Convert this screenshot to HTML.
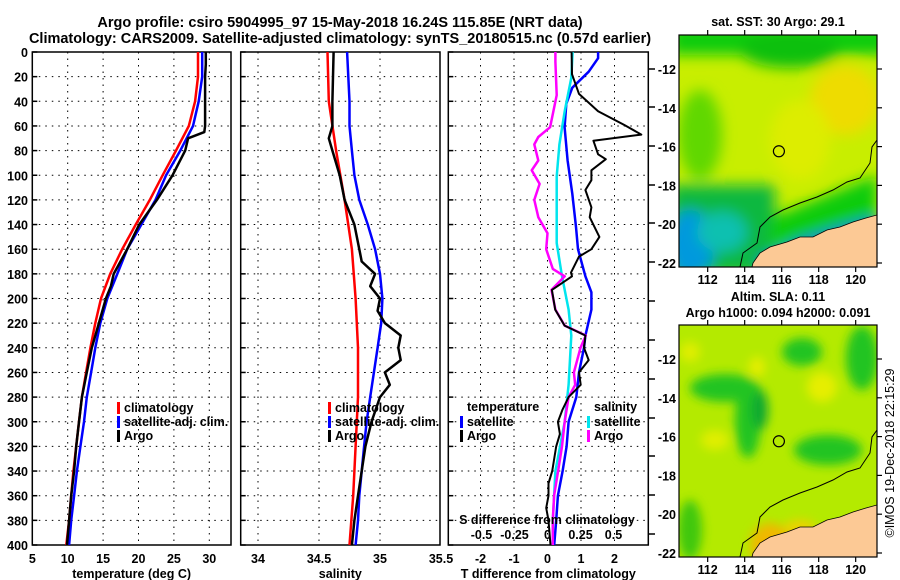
<!DOCTYPE html>
<html><head><meta charset="utf-8"><style>
html,body{margin:0;padding:0;background:#fff;}
svg{display:block;font-family:"Liberation Sans",sans-serif;font-weight:bold;}
</style></head><body>
<svg id="fig" width="900" height="580" viewBox="0 0 900 580" xmlns="http://www.w3.org/2000/svg">
<defs>
<filter id="blur6" x="-50%" y="-50%" width="200%" height="200%"><feGaussianBlur stdDeviation="7"/></filter>
<filter id="blur4" x="-50%" y="-50%" width="200%" height="200%"><feGaussianBlur stdDeviation="5"/></filter>
<clipPath id="clipTop"><rect x="679" y="35" width="198" height="232"/></clipPath>
<clipPath id="clipBot"><rect x="679" y="325" width="198" height="232"/></clipPath>
</defs>
<text x="340" y="27" text-anchor="middle" font-size="14.5">Argo profile: csiro 5904995_97 15-May-2018 16.24S 115.85E (NRT data)</text>
<text x="340" y="43" text-anchor="middle" font-size="14.5">Climatology: CARS2009. Satellite-adjusted climatology: synTS_20180515.nc (0.57d earlier)</text>
<g id="panels"></g>
<g id="maps"></g>
</svg>
<script>
// ---------- data ----------
const depthTicks=[0,20,40,60,80,100,120,140,160,180,200,220,240,260,280,300,320,340,360,380,400];
const tempTicks=[5,10,15,20,25,30];
const salTicks=[34,34.5,35,35.5];
const tdiffTicks=[-2,-1,0,1,2];
const sdiffTicks=[-0.5,-0.25,0,0.25,0.5];

const tArgoDepth=[0,10,20,40,60,65,70,80,100,120,140,160,180,190,200,220,240,260,280,300,320,340,360,380,400];
const tArgoVal=[29.5,29.5,29.4,29.4,29.4,29.3,27.0,26.6,24.8,22.6,20.1,18.4,16.5,16.1,15.4,14.4,13.4,12.7,12.0,11.6,11.2,10.9,10.5,10.2,9.9];
const tClimDepth=[0,20,40,60,80,100,120,140,160,180,200,220,240,260,280,300,320,340,360,380,400];
const tClimVal=[28.4,28.4,28.0,27.1,25.3,23.4,21.6,19.6,17.7,16.0,14.7,13.9,13.2,12.6,12.0,11.6,11.2,10.8,10.5,10.2,9.8];
const tSatVal=[29.0,29.0,28.5,27.7,25.9,23.9,22.4,20.4,18.4,17.0,15.6,14.6,13.9,13.3,12.7,12.3,11.8,11.3,10.9,10.5,10.2];

const sClimDepth=[0,40,80,120,160,200,240,280,320,360,400];
const sClimVal=[34.57,34.58,34.64,34.71,34.77,34.80,34.82,34.82,34.80,34.78,34.75];
const sSatDepth=[0,40,60,80,100,120,140,160,180,200,220,240,260,280,300,320,340,360,380,400];
const sSatVal=[34.73,34.75,34.75,34.77,34.79,34.83,34.90,34.96,35.00,35.02,35.01,34.98,34.95,34.92,34.89,34.87,34.85,34.83,34.82,34.80];
const sArgoDepth=[0,40,60,70,80,100,120,140,160,170,180,190,200,210,220,230,240,250,260,270,280,300,320,340,360,380,400];
const sArgoVal=[34.62,34.61,34.61,34.58,34.61,34.67,34.71,34.79,34.83,34.85,34.96,34.92,35.00,34.98,35.04,35.17,35.15,35.17,35.04,35.08,35.00,34.93,34.88,34.85,34.82,34.79,34.77];

const dTArgoDepth=[0,18,34,48,59,67,72,83,87,96,104,112,126,134,150,160,166,179,182,193,209,222,230,240,250,260,270,280,290,300,310,320,340,350,360,370,380,400];
const dTArgoVal=[0.72,0.73,0.94,1.51,2.28,2.8,1.37,1.51,1.74,1.31,1.31,1.13,1.31,1.26,1.55,1.31,0.94,0.70,0.73,0.13,0.23,0.51,1.13,1.09,1.23,0.94,0.99,0.63,0.45,0.31,0.37,0.26,0.14,0.03,0.03,-0.04,0.03,0.09];
const dTSatDepth=[0,5,16,29,42,61,88,115,142,160,182,195,209,230,240,260,280,300,320,340,360,380,400];
const dTSatVal=[1.51,1.51,1.23,0.74,0.56,0.51,0.60,0.74,0.85,0.91,1.13,1.31,1.31,1.13,1.09,0.94,0.86,0.63,0.57,0.45,0.31,0.26,0.20];
const dSSatDepth=[0,21,48,75,101,128,155,182,209,230,270,300,340,380,400];
const dSSatVal=[0.19,0.18,0.13,0.09,0.07,0.07,0.07,0.11,0.16,0.18,0.16,0.13,0.06,0.04,0.04];
const dSArgoDepth=[0,8,35,61,69,75,88,96,107,120,134,147,160,176,182,193,209,222,230,240,260,270,280,300,320,340,360,380,400];
const dSArgoVal=[0.06,0.06,0.07,0.02,-0.07,-0.10,-0.07,-0.12,-0.06,-0.10,-0.07,0.00,-0.01,0.04,0.13,0.03,0.06,0.13,0.29,0.25,0.20,0.21,0.16,0.13,0.11,0.08,0.05,0.04,0.04];

// ---------- axes ----------
const Y0=52, Y1=545;
const yD=d=>Y0+d*(Y1-Y0)/400;
const x1=t=>32.3+(t-5)*7.08;
const x2=s=>258+(s-34)*122;
const x3=t=>547.5+t*33.5;
const x3s=s=>547.5+s*132;

const NS="http://www.w3.org/2000/svg";
function mk(tag,attrs,parent){const e=document.createElementNS(NS,tag);for(const k in attrs)e.setAttribute(k,attrs[k]);parent.appendChild(e);return e;}
const P=document.getElementById('panels');

function panel(name,xl,xr,xticks,xf,xlabels,title){
  const g=mk('g',{},P);
  
  
  depthTicks.forEach(d=>{ if(d>0&&d<400){const l=mk('line',{x1:xl,x2:xr,y1:yD(d),y2:yD(d),stroke:'#000','stroke-width':1,'stroke-dasharray':'1.5,5'},g);
    
    }
    const t=mk('line',{x1:xl,x2:xl+5,y1:yD(d),y2:yD(d),stroke:'#000','stroke-width':1.5},g);
    
    
  });
  xticks.forEach(v=>{const X=xf(v); if(X>xl+2&&X<xr-2){const l=mk('line',{x1:X,x2:X,y1:Y0,y2:Y1,stroke:'#000','stroke-width':1,'stroke-dasharray':'1.5,5'},g);
    
    }
    if(xlabels){const t=mk('text',{x:X,y:563,'text-anchor':'middle','font-size':12.5},g);t.textContent=String(v);
      
      }
  });
  const r=mk('rect',{x:xl,y:Y0,width:xr-xl,height:Y1-Y0,fill:'none',stroke:'#000','stroke-width':1.5},g);
  
  
  const tt=mk('text',{x:(xl+xr)/2,y:578,'text-anchor':'middle','font-size':12.5},g);tt.textContent=title;
  
  
  return g;
}
function series(g,name,depths,vals,xf,color,w){
  const pts=depths.map((d,i)=>xf(vals[i]).toFixed(1)+','+yD(d).toFixed(1)).join(' ');
  const p=mk('polyline',{points:pts,fill:'none',stroke:color,'stroke-width':w,'stroke-linejoin':'round'},g);
  
  
}
function legend(g,name,x,y,color,label){
  const lg=mk('g',{},g);
  
  
  mk('rect',{x:x,y:y-10,width:3,height:12,fill:color},lg);
  const t=mk('text',{x:x+7,y:y,'font-size':12.5},lg);t.textContent=label;
}
function txt(g,name,x,y,s,anchor){const t=mk('text',{x:x,y:y,'font-size':12.5,'text-anchor':anchor||'start'},g);t.textContent=s;
  
  return t;}

// panel 1
const g1=panel('temperature-panel',32.3,231,tempTicks,x1,true,'temperature (deg C)');
depthTicks.forEach(d=>{const t=mk('text',{x:28,y:yD(d)+5,'text-anchor':'end','font-size':12.5},g1);t.textContent=d;
  
  });
series(g1,'temp-satellite-line',tClimDepth,tSatVal,x1,'#0000ff',2.5);
series(g1,'temp-climatology-line',tClimDepth,tClimVal,x1,'#ff0000',2.5);
series(g1,'temp-argo-line',tArgoDepth,tArgoVal,x1,'#000',2.5);
legend(g1,'legend-climatology',117,412,'#ff0000','climatology');
legend(g1,'legend-satellite',117,426,'#0000ff','satellite-adj. clim.');
legend(g1,'legend-argo',117,440,'#000','Argo');

// panel 2
const g2=panel('salinity-panel',240.7,440,salTicks,x2,true,'salinity');
series(g2,'sal-satellite-line',sSatDepth,sSatVal,x2,'#0000ff',2.5);
series(g2,'sal-climatology-line',sClimDepth,sClimVal,x2,'#ff0000',2.5);
series(g2,'sal-argo-line',sArgoDepth,sArgoVal,x2,'#000',2.5);
legend(g2,'legend-climatology',328,412,'#ff0000','climatology');
legend(g2,'legend-satellite',328,426,'#0000ff','satellite-adj. clim.');
legend(g2,'legend-argo',328,440,'#000','Argo');

// panel 3
const g3=panel('difference-panel',448.3,648.3,tdiffTicks,x3,true,'T difference from climatology');
series(g3,'tdiff-satellite-line',dTSatDepth,dTSatVal,x3,'#0000ff',2.5);
series(g3,'sdiff-satellite-line',dSSatDepth,dSSatVal,x3s,'#00e5ee',2.5);
series(g3,'sdiff-argo-line',dSArgoDepth,dSArgoVal,x3s,'#ff00ff',2.5);
series(g3,'tdiff-argo-line',dTArgoDepth,dTArgoVal,x3,'#000',2);
txt(g3,'legend-temperature-header',467,411,'temperature');
legend(g3,'legend-temp-satellite',460,426,'#0000ff','satellite');
legend(g3,'legend-temp-argo',460,440,'#000','Argo');
txt(g3,'legend-salinity-header',594,411,'salinity');
legend(g3,'legend-sal-satellite',587,426,'#00e5ee','satellite');
legend(g3,'legend-sal-argo',587,440,'#ff00ff','Argo');
txt(g3,'s-axis-title',547,524,'S difference from climatology','middle');
sdiffTicks.forEach(v=>{const t=txt(g3,'s-tick-label',x3s(v),539,String(v),'middle');});
[69,107,146,185,223,262,301,340,379,418,456,495,534].forEach(y=>{const l=mk('line',{x1:648,x2:655,y1:y,y2:y,stroke:'#000','stroke-width':1.5},g3);
  
  });

// ---------- maps ----------
const M=document.getElementById('maps');
const lonTicks=[112,114,116,118,120];
const latTicks=[-12,-14,-16,-18,-20,-22];
const mx=lon=>679+(lon-110.45)*18.5;
const coast=[[877,215],[866,218],[853,222],[840,227],[827,230],[813,237],[800,237],[787,242],[770,247],[760,253],[753,263],[752,267],[877,267]];
const iso=[[877,140],[872,147],[870,163],[860,178],[847,182],[833,190],[817,197],[800,203],[783,210],[770,217],[760,227],[757,243],[743,253],[740,267]];
function blob(f,cx,cy,rx,ry,fill){mk('ellipse',{cx:cx,cy:cy,rx:rx,ry:ry,fill:fill},f);}
function map(name,oy,kind,t1,t2){
  const g=mk('g',{},M);
  
  
  const my=lat=>oy+69+(-12-lat)*19.4;
  const cg=mk('g',{'clip-path':'url(#'+(kind==='sst'?'clipTop':'clipBot')+')'},g);
  if(kind==='sst'){
    mk('rect',{x:679,y:oy+35,width:198,height:232,fill:'#c8ee00'},cg);
    const f=mk('g',{filter:'url(#blur6)'},cg);
    mk('rect',{x:670,y:oy+25,width:220,height:30,fill:'#10cc10'},f);
    blob(f,790,oy+50,50,18,'#10c010');
    blob(f,700,oy+135,22,45,'#60d800');
    blob(f,845,oy+100,35,35,'#eedc00');
    blob(f,800,oy+140,30,40,'#dded00');
    mk('rect',{x:670,y:oy+185,width:105,height:90,fill:'#10b840'},f);
    mk('polygon',{points:'770,'+(oy+218)+' 877,'+(oy+175)+' 877,'+(oy+220)+' 770,'+(oy+250),fill:'#10cc10'},f);
    blob(f,690,oy+245,25,35,'#0099dd');
    blob(f,722,oy+232,25,20,'#10c0b0');
    mk('polyline',{points:'760,'+(oy+265)+' 800,'+(oy+245)+' 840,'+(oy+232)+' 877,'+(oy+222),fill:'none',stroke:'#0060ee','stroke-width':10},f);
  } else {
    mk('rect',{x:679,y:oy+35,width:198,height:232,fill:'#b4ea00'},cg);
    const f=mk('g',{filter:'url(#blur4)'},cg);
    const G='#20c420';
    blob(f,725,oy+98,35,14,G);
    blob(f,748,oy+130,13,38,G);
    blob(f,760,oy+120,8,20,'#10a830');
    blob(f,802,oy+62,20,14,G);
    blob(f,862,oy+68,16,32,G);
    blob(f,828,oy+160,34,15,G);
    blob(f,690,oy+240,12,30,'#40c810');
    blob(f,822,oy+97,15,15,'#e6ee00');
    blob(f,757,oy+77,8,10,'#e6ee00');
    blob(f,690,oy+62,10,10,'#e0ee00');
    blob(f,715,oy+150,14,10,'#e0ee00');
    blob(f,770,oy+255,20,22,'#f0b800');
    blob(f,800,oy+238,16,8,'#eed000');
  }
  const land=mk('polygon',{points:coast.map(p=>p[0]+','+(p[1]+oy)).join(' '),fill:'#fcc995',stroke:'#000','stroke-width':0.8},cg);
  
  
  const is=mk('polyline',{points:iso.map(p=>p[0]+','+(p[1]+oy)).join(' '),fill:'none',stroke:'#000','stroke-width':1},cg);
  
  
  const c=mk('circle',{cx:mx(115.85),cy:my(-16.24),r:5.5,fill:'none',stroke:'#000','stroke-width':1.2},g);
  
  
  mk('rect',{x:679,y:oy+35,width:198,height:232,fill:'none',stroke:'#000','stroke-width':1.2},g);
  lonTicks.forEach(v=>{mk('line',{x1:mx(v),x2:mx(v),y1:oy+35,y2:oy+30,stroke:'#000','stroke-width':1.2},g);
    mk('line',{x1:mx(v),x2:mx(v),y1:oy+267,y2:oy+272,stroke:'#000','stroke-width':1.2},g);
    const t=mk('text',{x:mx(v),y:oy+284,'text-anchor':'middle','font-size':12.5},g);t.textContent=v;
    
    });
  latTicks.forEach(v=>{mk('line',{x1:877,x2:882,y1:my(v),y2:my(v),stroke:'#000','stroke-width':1.2},g);
    const t=mk('text',{x:676,y:my(v)+5,'text-anchor':'end','font-size':12.5},g);t.textContent=v;
    
    });
  const a=mk('text',{x:778,y:oy+(t2?11:26),'text-anchor':'middle','font-size':12.5},g);a.textContent=t1;
  
  
  if(t2){const b=mk('text',{x:778,y:oy+27,'text-anchor':'middle','font-size':12.5},g);b.textContent=t2;
    
    }
}
map('sst-map',0,'sst','sat. SST: 30 Argo: 29.1');
map('sla-map',290,'sla','Altim. SLA: 0.11','Argo h1000: 0.094 h2000: 0.091');
const ts=mk('text',{x:0,y:0,'font-size':12.5,'font-weight':'normal','text-anchor':'middle',transform:'translate(894,453) rotate(-90)'},M);
ts.textContent='©IMOS 19-Dec-2018 22:15:29';


</script>
</body></html>
